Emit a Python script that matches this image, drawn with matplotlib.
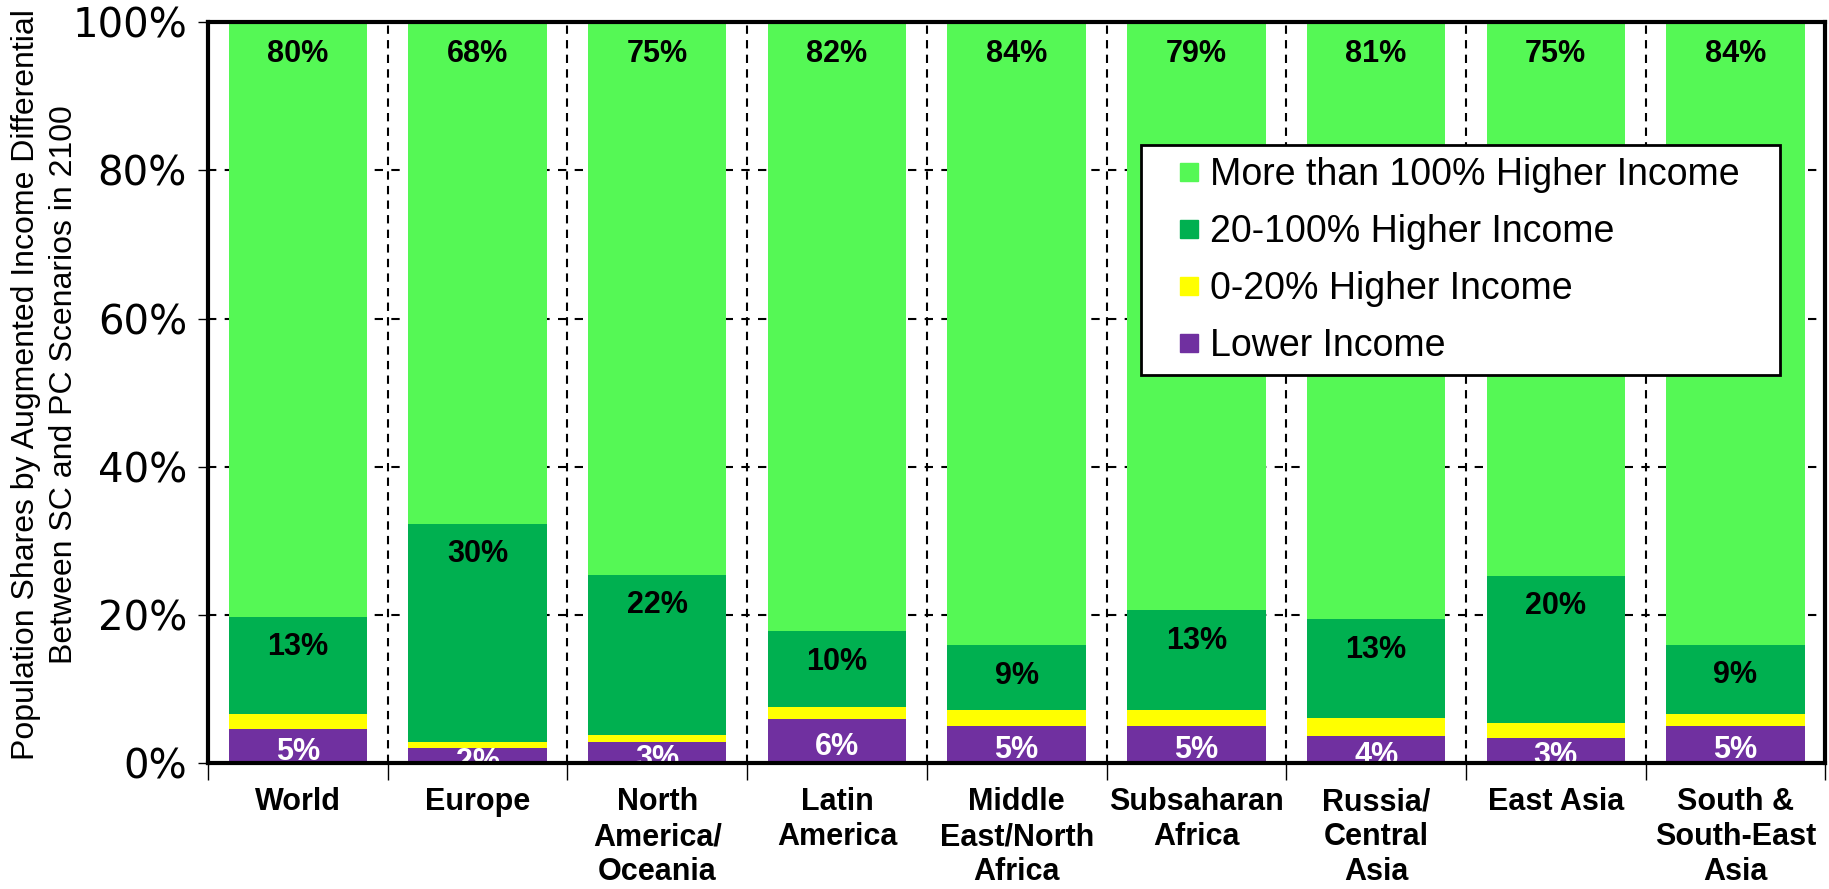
import numpy as np
import matplotlib
matplotlib.use('Agg')
import matplotlib.pyplot as plt
from matplotlib.lines import Line2D

regions = ['World', 'Europe', 'North\nAmerica/\nOceania', 'Latin\nAmerica',
           'Middle\nEast/North\nAfrica', 'Subsaharan\nAfrica', 'Russia/\nCentral\nAsia',
           'East Asia', 'South &\nSouth-East\nAsia']
lower = [4.6, 2.0, 2.8, 6.0, 5.0, 5.0, 3.6, 3.4, 5.0]
inc_0_20 = [2.0, 0.8, 1.0, 1.6, 2.2, 2.2, 2.5, 2.0, 1.6]
inc_20_100 = [13.1, 29.5, 21.6, 10.2, 8.7, 13.4, 13.3, 19.9, 9.4]
inc_100 = [80.3, 67.7, 74.6, 82.2, 84.1, 79.4, 80.6, 74.7, 84.0]

series_names = ['Lower Income', '0-20% Higher Income', '20-100% Higher Income',
                'More than 100% Higher Income']
colors = ['#7030A0', '#FFFF00', '#00B050', '#55F855']

fig = plt.figure(figsize=(18.29, 8.89), dpi=100)
ax = fig.add_axes([0.1137, 0.1417, 0.8843, 0.8333])

x = np.arange(len(regions))
w = 0.77
bottom = np.zeros(len(regions))
for vals, c, n in zip([lower, inc_0_20, inc_20_100, inc_100], colors, series_names):
    ax.bar(x, vals, w, bottom=bottom, color=c, label=n, zorder=3)
    bottom = bottom + np.array(vals)

# value labels
lab = dict(fontsize=22, fontweight='bold', family='Liberation Sans', ha='center', va='center')
for i in range(len(regions)):
    ax.text(x[i], 95.7, '%d%%' % round(inc_100[i]), zorder=5, **lab)
    top_mid = lower[i] + inc_0_20[i] + inc_20_100[i]
    ax.text(x[i], top_mid - 4.1, '%d%%' % round(inc_20_100[i]), zorder=5, **lab)
    ax.text(x[i], lower[i] / 2 - 0.8, '%d%%' % round(lower[i]), color='white',
            zorder=4, clip_on=True, **lab)

ax.set_xlim(-0.5, len(regions) - 0.5)
ax.set_ylim(0, 100)
ax.set_yticks(np.arange(0, 101, 20))
ax.set_yticklabels(['%d%%' % v for v in range(0, 101, 20)], family='DejaVu Sans', fontsize=29)
ax.yaxis.grid(True, linestyle=(0, (4, 4)), color='black', linewidth=1.5, zorder=1)

# dashed separators between regions
bounds = np.arange(0.5, len(regions) - 1, 1.0)
for b in bounds:
    ax.axvline(b, color='black', linestyle=(0, (4, 3)), linewidth=1.5, zorder=2)
ax.set_xticks(np.arange(-0.5, len(regions), 1.0))
ax.set_xticklabels([])
ax.tick_params(axis='x', length=12, width=1, direction='out')
ax.tick_params(axis='y', length=7, width=1, direction='out', pad=8)
for i, r in enumerate(regions):
    ax.text(x[i], -3.3, r, ha='center', va='top', fontsize=22, fontweight='bold',
            family='Liberation Sans', linespacing=1.2)

for s in ax.spines.values():
    s.set_linewidth(3)
    s.set_zorder(6)

ax.set_ylabel('Population Shares by Augmented Income Differential\nBetween SC and PC Scenarios in 2100',
              family='Liberation Sans', fontsize=23, linespacing=1.33)
ax.yaxis.set_label_coords(-0.0797, 0.511)

handles = [Line2D([], [], marker='s', linestyle='none', markersize=12.5, color=c)
           for c in colors[::-1]]
leg = ax.legend(handles, series_names[::-1], loc='upper left',
                bbox_to_anchor=(0.565, 0.859, 0.4187, 0), mode='expand',
                prop={'family': 'Liberation Sans', 'size': 27}, frameon=True, fancybox=False,
                edgecolor='black', framealpha=1, handlelength=2.0, handleheight=0.7,
                handletextpad=-0.44, labelspacing=0.56, borderpad=0.30)
leg.get_frame().set_linewidth(2)
leg.set_zorder(7)

fig.savefig('out.png', dpi=100)
